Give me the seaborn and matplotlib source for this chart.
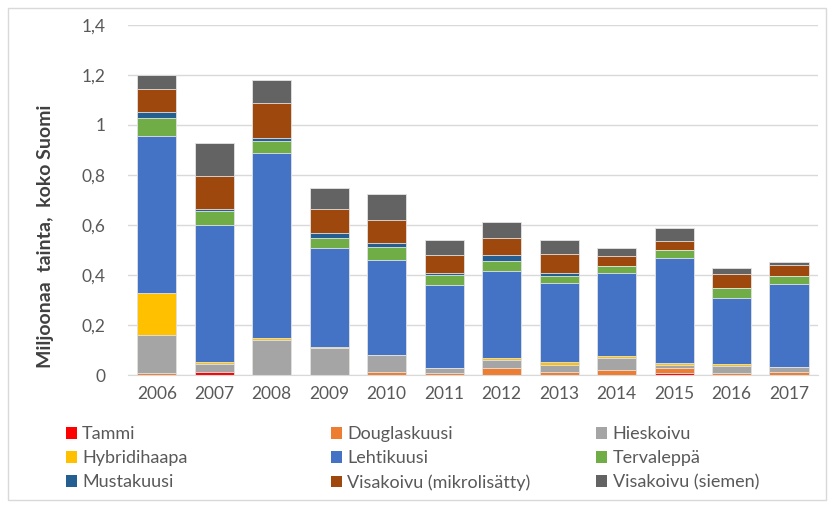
import numpy as np
import pandas as pd
import matplotlib
matplotlib.use("Agg")
import matplotlib.pyplot as plt
from matplotlib.patches import Patch, Rectangle
import seaborn as sns

years = ["2006", "2007", "2008", "2009", "2010", "2011",
         "2012", "2013", "2014", "2015", "2016", "2017"]

# values in million seedlings, bottom to top of each stack
tammi = [0.0, 0.012, 0.0, 0.0, 0.0, 0.0, 0.0, 0.0, 0.0, 0.008, 0.0, 0.0]
douglaskuusi = [0.007, 0.002, 0.0, 0.0, 0.013, 0.008, 0.027, 0.013, 0.020, 0.020, 0.008, 0.013]
hieskoivu = [0.153, 0.030, 0.139, 0.107, 0.069, 0.019, 0.035, 0.029, 0.049, 0.013, 0.027, 0.021]
hybridihaapa = [0.167, 0.007, 0.008, 0.007, 0.0, 0.0, 0.008, 0.012, 0.008, 0.007, 0.008, 0.0]
lehtikuusi = [0.628, 0.549, 0.739, 0.396, 0.377, 0.335, 0.348, 0.313, 0.333, 0.420, 0.266, 0.329]
tervaleppa = [0.071, 0.057, 0.048, 0.040, 0.055, 0.040, 0.040, 0.028, 0.025, 0.033, 0.040, 0.033]
mustakuusi = [0.027, 0.007, 0.013, 0.020, 0.015, 0.008, 0.022, 0.014, 0.003, 0.0, 0.0, 0.0]
visakoivu_mikro = [0.091, 0.131, 0.140, 0.093, 0.090, 0.072, 0.070, 0.077, 0.040, 0.036, 0.056, 0.043]
visakoivu_siemen = [0.056, 0.133, 0.092, 0.084, 0.106, 0.060, 0.063, 0.055, 0.029, 0.050, 0.023, 0.012]

species = ["Tammi", "Douglaskuusi", "Hieskoivu", "Hybridihaapa", "Lehtikuusi",
           "Tervaleppä", "Mustakuusi", "Visakoivu (mikrolisätty)", "Visakoivu (siemen)"]
series = [tammi, douglaskuusi, hieskoivu, hybridihaapa, lehtikuusi,
          tervaleppa, mustakuusi, visakoivu_mikro, visakoivu_siemen]
colors = ["#FF0000", "#ED7D31", "#A5A5A5", "#FFC000", "#4472C4",
          "#70AD47", "#255E91", "#9E480E", "#636363"]

df = pd.DataFrame(dict(zip(species, series)), index=years)
cum = df.cumsum(axis=1)

plt.rcParams["font.family"] = ["Lato", "DejaVu Sans"]

fig = plt.figure(figsize=(8.34, 5.08), dpi=100)
ax = fig.add_axes([0.1535, 0.2618, 0.827, 0.689])

# draw cumulative totals from top layer down so each layer covers the one above
for name, color in reversed(list(zip(species, colors))):
    sns.barplot(x=cum.index, y=cum[name].values, color=color, saturation=1,
                width=0.68, ax=ax, edgecolor="#e4e4e4", linewidth=0.6)

ax.set_ylim(0, 1.4)
yt = np.arange(0, 1.41, 0.2)
ax.set_yticks(yt)
ax.set_yticklabels([f"{v:g}".replace(".", ",") for v in np.round(yt, 1)])
ax.yaxis.grid(True, color="#d9d9d9", linewidth=1)
ax.set_axisbelow(True)
for s in ["top", "right", "left"]:
    ax.spines[s].set_visible(False)
ax.spines["bottom"].set_color("#d9d9d9")
ax.tick_params(axis="both", length=0, colors="#595959", labelsize=12.5)
ax.tick_params(axis="y", pad=16)
ax.tick_params(axis="x", pad=8)
ax.set_xlabel("")
ax.set_ylabel("Miljoonaa  tainta,  koko Suomi", fontsize=14, fontweight="bold",
              color="#404040")
ax.yaxis.set_label_coords(-0.108, 0.395)

# one legend per column, rows read left to right like the original
cols = [[0, 3, 6], [1, 4, 7], [2, 5, 8]]
xs = [0.079, 0.397, 0.715]
for idx, x0 in zip(cols, xs):
    handles = [Patch(facecolor=colors[i], label=species[i]) for i in idx]
    fig.legend(handles=handles, loc="upper left", bbox_to_anchor=(x0, 0.161),
               ncol=1, frameon=False, fontsize=13, labelcolor="#595959",
               handlelength=0.6, handleheight=0.6, handletextpad=0.3,
               labelspacing=0.45, borderaxespad=0, borderpad=0)

fig.patches.append(Rectangle((0.0096, 0.016), 0.981, 0.968, transform=fig.transFigure,
                             fill=False, edgecolor="#d9d9d9", linewidth=1))

fig.savefig("out.png", dpi=100)
